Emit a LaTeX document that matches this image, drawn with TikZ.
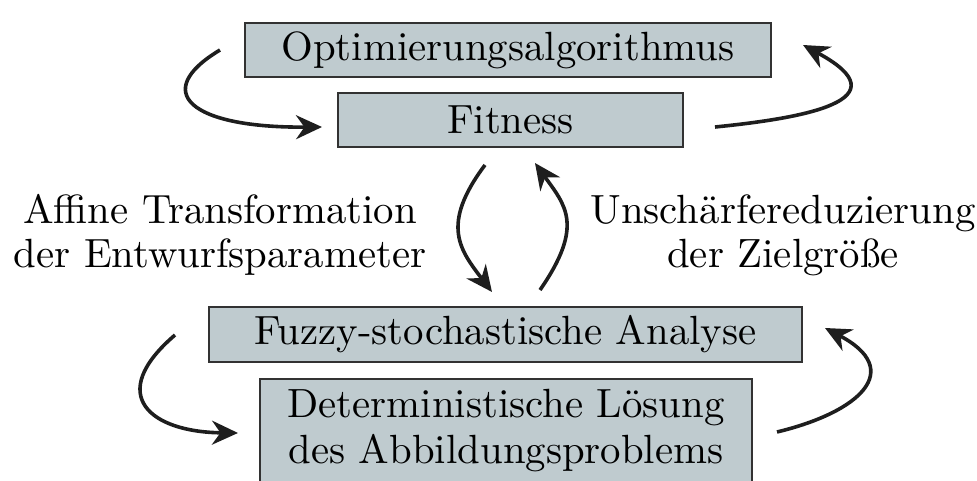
\documentclass[tikz,border=0pt]{standalone}
\usetikzlibrary{arrows.meta}
\definecolor{boxfill}{RGB}{191,203,207}
\definecolor{boxdraw}{RGB}{50,50,50}
\definecolor{arr}{RGB}{30,30,30}
\begin{document}
\begin{tikzpicture}[x=0.25pt,y=-0.25pt,
  box/.style={draw=boxdraw,fill=boxfill,line width=0.5pt,inner sep=0pt,
    font=\fontsize{10.2pt}{11.5pt}\selectfont,align=center},
  lbl/.style={font=\fontsize{10.2pt}{11pt}\selectfont,align=center,inner sep=0pt},
  cyc/.style={draw=arr,line width=0.9pt,-{Stealth[length=6.5pt,width=6pt]}}]
\useasboundingbox (0,0) rectangle (977,481);
\clip (0,0) rectangle (977,481);
\node[box,minimum width=131.5pt,minimum height=13.5pt] (opt) at (508,50) {Optimierungsalgorithmus};
\node[box,minimum width=86.25pt,minimum height=13.5pt] (fit) at (510.5,120) {Fitness};
\node[box,minimum width=148.25pt,minimum height=13.75pt] (fuz) at (505.5,334.5) {Fuzzy-stochastische Analyse};
\node[box,minimum width=123pt,minimum height=26pt,anchor=north] (det) at (506,378) {Deterministische L\"osung\\des Abbildungsproblems};
\node[lbl] (lt) at (220,235) {Affine Transformation\\der Entwurfsparameter};
\node[lbl] (rt) at (783,235) {Unsch\"arfereduzierung\\der Zielgr\"o\ss e};
% free ends
\coordinate (a1s) at (220,50);  \coordinate (a1e) at (322,127);
\coordinate (a2s) at (715,127); \coordinate (a2e) at (803,45);
\coordinate (a3s) at (485,165); \coordinate (a3e) at (492,292);
\coordinate (a4s) at (540,290); \coordinate (a4e) at (535,163);
\coordinate (a5s) at (175,335); \coordinate (a5e) at (238,433);
\coordinate (a6s) at (777,432); \coordinate (a6e) at (825,328);
\draw[cyc] (a1s) .. controls (150,92) and (190,128) .. (a1e);
\draw[cyc] (a2s) .. controls (805,118) and (905,100) .. (a2e);
\draw[cyc] (a3s) .. controls (440,225) and (460,250) .. (a3e);
\draw[cyc] (a4s) .. controls (585,225) and (565,205) .. (a4e);
\draw[cyc] (a5s) .. controls (105,395) and (150,432) .. (a5e);
\draw[cyc] (a6s) .. controls (860,412) and (905,370) .. (a6e);
\end{tikzpicture}
\end{document}
